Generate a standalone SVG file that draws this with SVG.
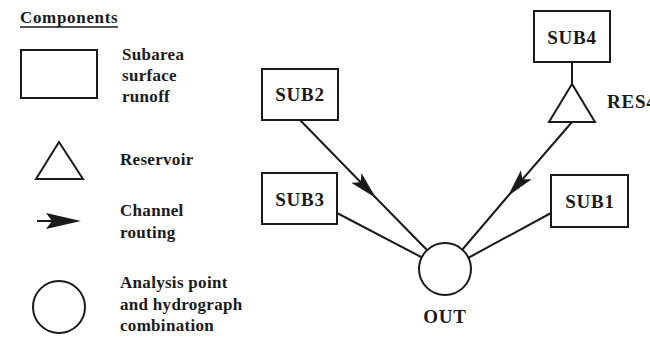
<svg xmlns="http://www.w3.org/2000/svg" width="650" height="337" viewBox="0 0 650 337">
<style>
.t{font-family:"Liberation Serif","Times New Roman",serif;font-weight:bold;font-size:17px;fill:#1a1a1a;letter-spacing:0.3px}
.n{font-family:"Liberation Serif","Times New Roman",serif;font-weight:bold;font-size:19px;fill:#1a1a1a;letter-spacing:0.8px}
.s{fill:#fff;stroke:#1a1a1a;stroke-width:2}
.c{fill:none;stroke:#1a1a1a;stroke-width:2}
</style>
<defs>
<marker id="ah" viewBox="0 0 28 14" refX="28" refY="7" markerWidth="28" markerHeight="14" markerUnits="userSpaceOnUse" orient="auto">
<path d="M0,0 L28,7 L0,14 L6,7 z" fill="#1a1a1a"/>
</marker>
</defs>
<rect width="650" height="337" fill="#fff"/>
<g id="legend">
<text class="t" x="20" y="23" textLength="98">Components</text>
<line x1="20" y1="27" x2="118" y2="27" stroke="#1a1a1a" stroke-width="1.5"/>
<rect class="s" x="21" y="50" width="76" height="48"/>
<text class="t" x="122" y="60">Subarea</text>
<text class="t" x="122" y="81">surface</text>
<text class="t" x="122" y="102">runoff</text>
<polygon class="s" points="59,142 36,179 83,179"/>
<text class="t" x="120" y="165">Reservoir</text>
<line x1="37" y1="221" x2="52" y2="221" stroke="#1a1a1a" stroke-width="2"/>
<polygon points="46,213 81,221 46,229 52,221" fill="#1a1a1a"/>
<text class="t" x="120" y="216">Channel</text>
<text class="t" x="120" y="238">routing</text>
<circle class="s" cx="59" cy="307" r="26"/>
<text class="t" x="120" y="288">Analysis point</text>
<text class="t" x="120" y="310">and hydrograph</text>
<text class="t" x="120" y="331">combination</text>
</g>
<g id="connectors">
<path class="c" d="M300,120 L376,198 L427,250" marker-mid="url(#ah)"/>
<path class="c" d="M572,122 L508,196 L462,250" marker-mid="url(#ah)"/>
<line class="c" x1="337" y1="213" x2="423" y2="258"/>
<line class="c" x1="551" y1="213" x2="468" y2="258"/>
<line class="c" x1="572" y1="62" x2="572" y2="84"/>
</g>
<g id="SUB2">
<rect class="s" x="262" y="69" width="76" height="51"/>
<text class="n" x="300" y="101" text-anchor="middle">SUB2</text>
</g>
<g id="SUB3">
<rect class="s" x="262" y="173" width="75" height="51"/>
<text class="n" x="300" y="206" text-anchor="middle">SUB3</text>
</g>
<g id="SUB4">
<rect class="s" x="534" y="11" width="76" height="51"/>
<text class="n" x="572" y="44" text-anchor="middle">SUB4</text>
</g>
<g id="RES4">
<polygon class="s" points="572,84 549,122 595,122"/>
<text class="n" x="607" y="108">RES4</text>
</g>
<g id="SUB1">
<rect class="s" x="551" y="175" width="77" height="52"/>
<text class="n" x="590" y="208" text-anchor="middle">SUB1</text>
</g>
<g id="OUT">
<circle class="s" cx="445" cy="269" r="26"/>
<text class="n" x="445" y="323" text-anchor="middle">OUT</text>
</g>
</svg>
